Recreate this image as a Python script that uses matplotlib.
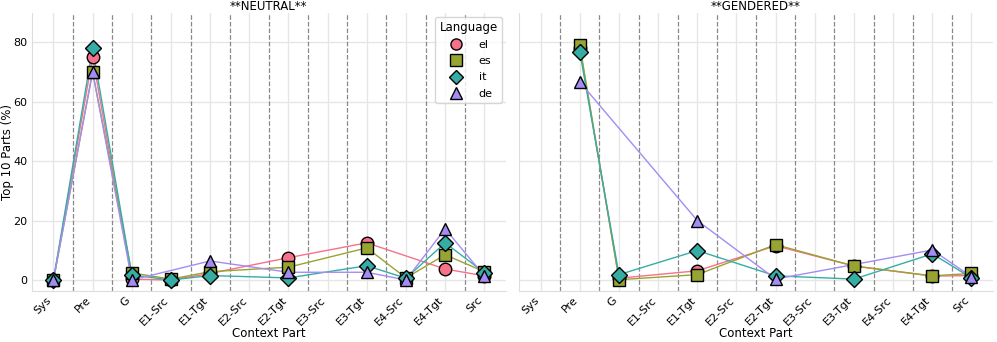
import numpy as np
import matplotlib
matplotlib.use("Agg")
from matplotlib import pyplot as plt
from matplotlib.lines import Line2D

parts = ["Sys", "Pre", "G", "E1-Src", "E1-Tgt", "E2-Src", "E2-Tgt",
         "E3-Src", "E3-Tgt", "E4-Src", "E4-Tgt", "Src"]
langs = ["el", "es", "it", "de"]
colors = ["#f77189", "#97a431", "#36ada4", "#a48cf4"]
markers = ["o", "s", "D", "^"]

nan = np.nan
# values per context part (nan = part not present for that language)
neutral_el = [0, 75, 0.3, 0, 2.2, nan, 7.5, nan, 12.5, nan, 3.7, 1.4]
neutral_es = [0, 70, 2.4, 0.3, 2.8, nan, 4.3, nan, 10.8, 0.7, 8.5, 2.8]
neutral_it = [0, 78, 1.7, 0, 1.5, nan, 0.7, nan, 4.8, 0.6, 12.5, 2.5]
neutral_de = [0, 70, 0, nan, 6.4, nan, 2.6, nan, 2.6, 0, 17.2, 1.4]

gendered_el = [nan, 78, 0.6, nan, 3.1, nan, 11.5, nan, 4.7, nan, 1.3, 1.5]
gendered_es = [nan, 79, 0.1, nan, 1.8, nan, 11.9, nan, 4.7, nan, 1.4, 2.2]
gendered_it = [nan, 76.8, 1.8, nan, 9.9, nan, 1.4, nan, 0.3, nan, 8.8, 0.7]
gendered_de = [nan, 66.6, nan, nan, 20, nan, 0.3, nan, nan, nan, 10.1, 1.1]

panels = [("**NEUTRAL**", [neutral_el, neutral_es, neutral_it, neutral_de]),
          ("**GENDERED**", [gendered_el, gendered_es, gendered_it, gendered_de])]

fig, axes = plt.subplots(1, 2, figsize=(9.97, 3.42), dpi=100, sharey=True)
fig.subplots_adjust(left=0.032, right=0.996, top=0.961, bottom=0.15, wspace=0.028)

x_all = np.arange(len(parts))
for ax, (title, series) in zip(axes, panels):
    ax.set_axisbelow(True)
    ax.grid(True, color="#e6e6e6", linewidth=1)
    for s in ["top", "right"]:
        ax.spines[s].set_visible(False)
    for s in ["left", "bottom"]:
        ax.spines[s].set_color("#dddddd")
    for i in range(len(parts) - 1):
        ax.axvline(i + 0.5, color="#888888", linestyle="--", linewidth=0.9, zorder=1)
    for vals, c, m in zip(series, colors, markers):
        v = np.array(vals, dtype=float)
        ok = ~np.isnan(v)
        ax.plot(x_all[ok], v[ok], color=c, linewidth=1, zorder=2)
        ax.plot(x_all[ok], v[ok], linestyle="none", marker=m, color=c,
                markersize=9 if m != "D" else 8, markeredgecolor="black",
                markeredgewidth=1, zorder=3)
    ax.set_xticks(x_all)
    ax.set_xticklabels(parts, rotation=45, ha="right", fontsize=8)
    ax.tick_params(length=0, pad=3)
    ax.set_xlim(-0.55, 11.55)
    ax.set_title(title, fontsize=8.5, pad=2)
    ax.set_xlabel("Context Part", fontsize=8.5, labelpad=0)

axes[0].set_ylim(-3.6, 89.7)
axes[0].set_yticks([0, 20, 40, 60, 80])
axes[0].tick_params(axis="y", labelsize=8)
axes[0].set_ylabel("Top 10 Parts (%)", fontsize=8.5)
axes[0].yaxis.set_label_coords(-0.037, 0.5)

handles = [Line2D([], [], linestyle="none", marker=m, color=c, markersize=8 if m != "D" else 7,
                  markeredgecolor="black", markeredgewidth=1)
           for c, m in zip(colors, markers)]
axes[0].legend(handles, langs, title="Language", loc="upper right", fontsize=8,
               title_fontsize=8.5, borderaxespad=0.3, handletextpad=1.0, labelspacing=0.55)

fig.savefig("out.png", dpi=100)
